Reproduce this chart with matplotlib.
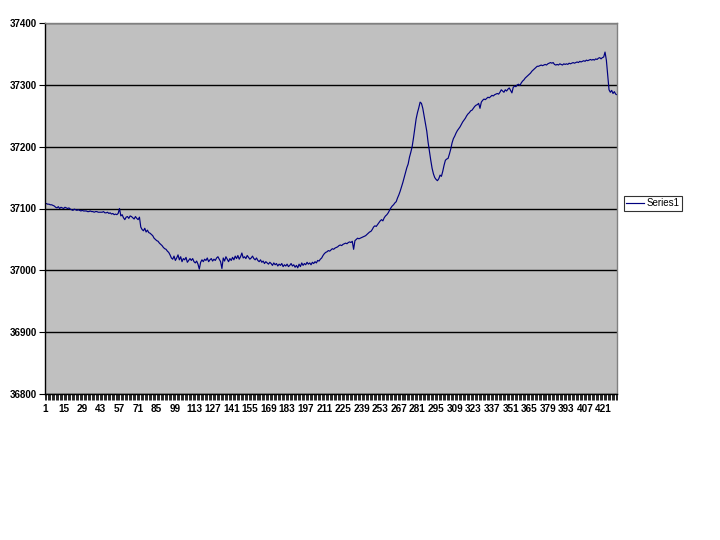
import matplotlib
matplotlib.use("Agg")
import matplotlib.pyplot as plt
from matplotlib.ticker import FixedLocator

values = [
    37108, 37108, 37107, 37107, 37106, 37106, 37105, 37104, 37102, 37101,
    37103, 37100, 37102, 37101, 37100, 37102, 37101, 37100, 37101, 37099,
    37098, 37097, 37099, 37098, 37097, 37098, 37097, 37096, 37097, 37096,
    37096, 37096, 37095, 37095, 37096, 37095, 37095, 37094, 37095, 37095,
    37094, 37094, 37094, 37094, 37095, 37093, 37093, 37094, 37092, 37093,
    37091, 37092, 37090, 37091, 37090, 37092, 37100, 37088, 37090, 37085,
    37082, 37086, 37087, 37084, 37088, 37087, 37085, 37083, 37087, 37084,
    37082, 37086, 37070, 37066, 37064, 37068, 37062, 37065, 37061, 37060,
    37058, 37056, 37052, 37050, 37048, 37047, 37044, 37042, 37040, 37037,
    37035, 37034, 37031, 37029, 37025, 37020, 37018, 37023, 37016, 37020,
    37025, 37017, 37022, 37014, 37019, 37017, 37021, 37013, 37016, 37019,
    37016, 37019, 37014, 37012, 37015, 37010, 37002, 37013, 37017, 37014,
    37018, 37016, 37020, 37014, 37017, 37019, 37015, 37018, 37016, 37020,
    37022, 37018, 37014, 37003, 37020, 37015, 37022, 37018, 37014, 37019,
    37016, 37021, 37017, 37023, 37019, 37024, 37018, 37022, 37028, 37020,
    37022, 37019, 37024, 37021, 37018, 37020, 37023, 37019, 37017, 37020,
    37016, 37014, 37017, 37013, 37015, 37011, 37014, 37012, 37010, 37013,
    37011, 37008, 37012, 37009, 37011, 37007, 37010, 37008, 37011, 37006,
    37009, 37007, 37010, 37006, 37008, 37011, 37007, 37009, 37005, 37008,
    37004, 37010, 37006, 37012, 37008, 37011, 37009, 37013, 37010, 37012,
    37009, 37013, 37011, 37014, 37012, 37016, 37015, 37018, 37020, 37024,
    37027, 37029, 37030, 37032, 37031, 37033, 37035, 37034, 37036, 37037,
    37038, 37040, 37041, 37040, 37042, 37043, 37044, 37043, 37045, 37046,
    37045, 37047, 37034, 37048, 37050, 37052, 37051, 37052, 37053, 37054,
    37055, 37056, 37058, 37060, 37062, 37063, 37066, 37070, 37072, 37071,
    37074, 37077, 37080, 37082, 37080, 37085, 37088, 37090, 37093, 37097,
    37101, 37104, 37106, 37109, 37111, 37117, 37122, 37128, 37135, 37142,
    37150, 37158, 37166, 37172, 37183, 37191, 37200, 37214, 37230, 37245,
    37255, 37263, 37272, 37270, 37262, 37250, 37238, 37225, 37207, 37192,
    37178, 37165, 37156, 37150, 37147, 37145, 37148, 37154, 37152, 37160,
    37170, 37178, 37180, 37181, 37188, 37196, 37206, 37213, 37217, 37222,
    37226, 37229, 37232, 37236, 37240, 37243, 37246, 37250, 37253, 37255,
    37258, 37259, 37262, 37265, 37267, 37268, 37270, 37262, 37272, 37275,
    37277, 37276, 37278, 37280, 37279, 37281, 37283, 37282, 37284, 37285,
    37286, 37285, 37288, 37292, 37290, 37288, 37292, 37290, 37293, 37295,
    37291, 37287, 37296, 37298, 37297, 37300, 37301, 37299, 37303, 37306,
    37308, 37311, 37313, 37315, 37317, 37319, 37322, 37324, 37326, 37328,
    37330, 37330, 37331, 37332, 37331, 37332, 37333, 37332, 37334, 37335,
    37336, 37335, 37336, 37333, 37332, 37333, 37332, 37334, 37333, 37332,
    37334, 37333, 37334, 37333, 37335, 37334, 37335, 37336, 37335, 37336,
    37337, 37336, 37338, 37337, 37338, 37339, 37338, 37340, 37339, 37340,
    37341, 37340, 37341, 37340, 37342, 37341, 37343, 37344, 37342, 37344,
    37345, 37353, 37340, 37315, 37292, 37288, 37291, 37286, 37289, 37285,
    37284,
]
categories = list(range(1, len(values) + 1))
x_labels = categories[::14]
y_ticks = [36800, 36900, 37000, 37100, 37200, 37300, 37400]
series_name = "Series1"

plt.rcParams["font.family"] = ["Liberation Sans", "DejaVu Sans"]

fig = plt.figure(figsize=(7.2, 5.4), dpi=100)
ax = fig.add_axes([45 / 720, 1 - 394 / 540, 572 / 720, 371 / 540])
ax.set_facecolor("#C0C0C0")

ax.plot(categories, values, color="#000080", linewidth=0.85, label=series_name)

ax.set_xlim(1, len(values))
ax.set_ylim(36800, 37400)
ax.set_yticks(y_ticks)
ax.set_yticklabels([str(v) for v in y_ticks], fontsize=7, fontweight="bold")
ax.set_xticks(x_labels)
ax.set_xticklabels([str(v) for v in x_labels], fontsize=7.2, fontweight="bold")
ax.xaxis.set_minor_locator(FixedLocator(categories))
ax.tick_params(axis="x", which="major", length=4, width=0.6, direction="out", pad=3)
ax.tick_params(axis="x", which="minor", length=4, width=0.6, direction="out")
ax.tick_params(axis="y", length=4, width=0.8, direction="out", pad=2)

ax.grid(axis="y", color="black", linewidth=1.0)
ax.set_axisbelow(True)

for side in ("top", "right"):
    ax.spines[side].set_color("#808080")
    ax.spines[side].set_linewidth(1.0)
for side in ("left", "bottom"):
    ax.spines[side].set_color("black")
    ax.spines[side].set_linewidth(1.0)

leg = fig.legend(loc="center left", bbox_to_anchor=(624 / 720, 1 - 203.5 / 540),
                 fontsize=7, frameon=True, fancybox=False, handlelength=1.8,
                 borderpad=0.25, handletextpad=0.3, borderaxespad=0)
leg.get_frame().set_edgecolor("black")
leg.get_frame().set_linewidth(0.8)

fig.savefig("out.png", dpi=100)
